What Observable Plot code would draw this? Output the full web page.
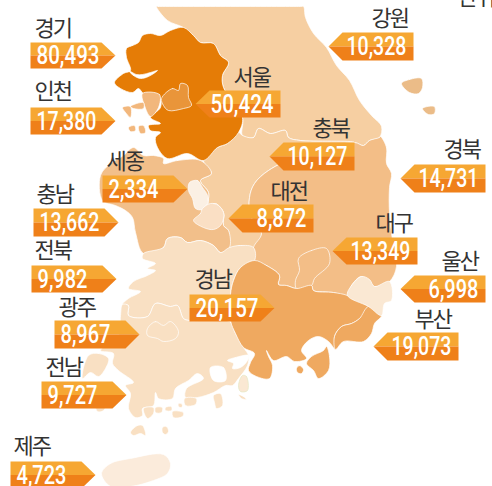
<!DOCTYPE html>
<html><head><meta charset="utf-8">
<style>
html,body{margin:0;padding:0;background:#fff}
svg{display:block}
.names text{letter-spacing:-2px}
</style>
<script src="https://cdn.jsdelivr.net/npm/d3@7"></script>
<script src="https://cdn.jsdelivr.net/npm/@observablehq/plot@0.6"></script>
</head><body><div id="chart"></div>
<script>
// Values
const regionNames = ["경기","인천","세종","충남","전북","광주","전남","제주","서울","강원","충북","경북","대전","대구","울산","부산","경남"];
const regionValues = [80493,17380,2334,13662,9982,8967,9727,4723,50424,10328,10127,14731,8872,13349,6998,19073,20157];
// Tag layout: [left, right, top, bottom, direction]
const tagBoxes = [[30,101,42,68,1],[30,101,107,134,1],[102,173,175,202,1],[33,104,208,236,1],[31,102,265,292,1],[54,125,320,348,1],[41,112,381,408,1],[10,81,461,488,1],[209,280,90,117,-1],[342,413,32,60,-1],[283,354,142,170,-1],[414,485,164,192,-1],[242,313,204,232,-1],[346,417,237,264,-1],[414,485,275,302,-1],[387,458,332,360,-1],[189,260,294,321,1]];
const namePos = [[34,35],[34,98],[106,168],[36,201],[34,257],[58,314],[45,374],[13,453],[233,84],[371,25],[312,135],[443,156],[270,198],[375,230],[441,268],[414,326],[194,286]];
// Map outlines, in picture units
const gangwon=[[156,6],[158,6],[230,6],[300,6],[303,6],[305,17],[313,33],[326,47],[336,65],[349,80],[359,100],[371,115],[381,126],[379,137],[369,140],[363,145],[354,142],[300,140],[288,137],[285,130],[270,133],[258,128],[253,137],[242,135],[242,117],[223,87],[222,75],[228,62],[220,55],[213,43],[200,42],[193,35],[183,27],[167,20]];
const chungbuk=[[242,135],[253,137],[258,128],[270,133],[285,130],[288,137],[300,140],[354,142],[300,155],[268,170],[254,183],[249,197],[250,215],[261,233],[253,247],[240,245],[229,247],[228,230],[223,225],[223,212],[215,203],[208,205],[208,192],[200,180],[211,173],[203,160],[217,147],[227,143],[238,132]];
const gyeonggi=[[126,48],[132,45],[138,42],[142,35],[150,33],[160,35],[170,30],[183,27],[193,35],[200,42],[213,43],[220,55],[228,62],[222,75],[223,87],[242,117],[238,132],[227,143],[217,147],[203,160],[187,153],[167,158],[157,147],[155,137],[160,132],[150,130],[148,125],[160,123],[150,117],[160,107],[159,97],[143,93],[138,88],[132,92],[120,88],[114,82],[123,73],[130,70],[126,57]];
const crescent=[[128,70],[133,75],[140,78],[148,76],[157,70],[150,72],[142,74],[136,74]];
const seoul=[[161,98],[172,88],[178,90],[180,83],[187,85],[188,97],[191,105],[183,108],[168,110],[163,105]];
const incheon=[[142,93],[159,94],[158,107],[150,116],[144,105]];
const incheonIslands=[[[130,106],[143,102],[143,108],[133,108]],[[122,107],[130,106],[130,117],[125,112]],[[128,127],[134,125],[135,130],[130,131]],[[138,126],[143,125],[145,132],[140,133]]];
const chungnam=[[163,163],[177,160],[200,160],[211,173],[200,180],[208,192],[208,205],[215,203],[223,212],[223,225],[228,230],[229,247],[220,252],[213,245],[200,240],[187,242],[180,237],[167,238],[163,247],[143,253],[135,232],[132,217],[125,210],[115,205],[102,200],[100,175],[110,163],[123,155],[133,147],[143,155],[153,155],[163,158]];
const sejong=[[189,182],[197,180],[202,187],[207,195],[207,203],[202,209],[195,208],[192,198],[188,190]];
const daejeon=[[193,220],[200,213],[202,208],[210,203],[218,205],[223,212],[223,218],[220,225],[213,229],[203,227]];
const jeonbuk=[[143,253],[163,247],[167,238],[180,237],[187,242],[200,240],[213,245],[220,252],[229,247],[240,245],[253,247],[254,260],[240,267],[233,280],[230,294],[229,321],[189,320],[183,318],[177,305],[170,306],[155,303],[147,316],[128,315],[128,305],[122,304],[128,298],[140,291],[128,288],[133,281],[147,275],[155,270],[147,268],[155,263],[142,258]];
const jeonnam=[[122,304],[128,305],[128,315],[147,316],[155,303],[170,306],[177,305],[183,318],[189,320],[229,321],[235,333],[243,347],[248,355],[247,365],[238,378],[232,385],[225,385],[213,392],[197,397],[185,397],[186,388],[203,378],[197,373],[188,380],[175,388],[172,398],[158,398],[155,392],[153,405],[142,408],[142,415],[135,417],[128,408],[130,393],[125,385],[133,382],[118,370],[112,363],[113,353],[100,350],[118,335],[120,315]];
const gwangju=[[147,328],[155,321],[163,325],[170,321],[178,331],[175,338],[163,341],[157,338],[147,335]];
const jeonnamIslands=[[[130,432],[137,425],[142,425],[145,435],[140,433],[133,435]],[[162,427],[166,426],[168,431],[165,434],[162,432]],[[143,408],[153,407],[153,413],[147,418]],[[155,407],[162,407],[161,412],[155,412]],[[165,407],[171,406],[171,410],[165,410]],[[172,411],[183,412],[182,416],[173,417]],[[178,403],[182,404],[181,407],[178,406]],[[184,398],[196,398],[195,404],[185,405]],[[213,395],[220,393],[222,405],[216,408],[214,402]],[[88,355],[98,353],[108,358],[105,368],[98,376],[90,372],[82,378]],[[95,403],[106,402],[103,410],[97,411]]];
const namhae=[[242,375],[246,376],[247,390],[240,391],[238,385]];
const namhaeSmall=[[238,394],[243,396],[246,399],[241,398]];
const gyeongbuk=[[380,136],[386,147],[386,163],[391,173],[389,187],[389,213],[392,240],[396,266],[389,281],[374,286],[361,276],[351,285],[347,295],[333,292],[313,290],[311,285],[296,288],[286,285],[278,284],[279,275],[266,265],[254,260],[253,247],[261,233],[250,215],[249,197],[254,183],[268,170],[300,155],[354,142],[363,145],[369,140],[379,137]];
const daegu=[[298,258],[311,250],[326,248],[329,263],[314,278],[311,285],[296,288],[295,280],[299,270]];
const gyeongnam=[[254,260],[266,265],[279,275],[278,284],[286,285],[296,288],[311,285],[313,290],[333,292],[347,295],[368,306],[359,318],[351,323],[341,326],[334,336],[335,349],[328,341],[318,336],[308,340],[301,350],[306,358],[294,361],[286,356],[273,360],[266,350],[268,356],[272,365],[269,378],[256,376],[248,370],[250,362],[254,353],[243,347],[235,333],[230,320],[230,294],[233,280],[240,267]];
const busan=[[368,306],[381,315],[374,323],[371,333],[363,341],[343,341],[335,349],[334,336],[341,326],[351,323],[359,318]];
const ulsan=[[347,295],[351,285],[361,276],[369,279],[374,286],[389,281],[391,300],[384,303],[381,315],[368,306]];
const geoje=[[[326,346],[329,356],[328,370],[318,378],[313,370],[306,363],[311,356],[323,350]],[[296,368],[299,365],[303,369],[301,373],[297,372]]];
const ulleung=[[401,83],[409,79],[421,78],[422,87],[418,93],[409,92]];
const dokdo=[[422,108],[434,106],[434,113],[428,114]];
const jeju=[[101,473],[110,463],[130,458],[163,454],[170,463],[167,473],[153,480],[130,486],[110,486]];
const whiteBays=[[[227,360],[235,357],[248,355],[247,360],[240,367],[232,368],[233,363]],[[210,367],[223,367],[225,380],[213,380]],crescent];

const regionFill={gangwon:"#f6cfa2",chungbuk:"#f6cfa2",gyeonggi:"#e57c06",seoul:"#e9953a",incheon:"#f2b77c",chungnam:"#f2bf8a",sejong:"#fbf0e4",daejeon:"#fadfc4",jeon:"#f9e0c3",gyeongbuk:"#f3be87",gyeongnam:"#efa960",ulsan:"#fae8d3",jeju:"#fbebdb",ulleung:"#ebbc88"};
const shapes=[];
let sid=0;
function add(pts,fill,stroke="#fff"){const id=sid++;pts.forEach(p=>shapes.push({id,x:p[0],y:p[1],fill,stroke}));}
add(gangwon,regionFill.gangwon);add(chungbuk,regionFill.chungbuk);add(chungnam,regionFill.chungnam);
add(gyeongbuk,regionFill.gyeongbuk);add(daegu,regionFill.gyeongbuk);
add(jeonbuk,regionFill.jeon);add(jeonnam,regionFill.jeon);add(gwangju,regionFill.jeon);
jeonnamIslands.forEach(s=>add(s,regionFill.jeon));
add(gyeongnam,regionFill.gyeongnam);add(busan,regionFill.gyeongnam);geoje.forEach(s=>add(s,regionFill.gyeongnam));
add(ulsan,regionFill.ulsan);
add(gyeonggi,regionFill.gyeonggi);add(seoul,regionFill.seoul);add(incheon,regionFill.incheon);
incheonIslands.forEach(s=>add(s,regionFill.incheon));
add(sejong,regionFill.sejong);add(daejeon,regionFill.daejeon);
whiteBays.forEach(s=>add(s,"#fff"));
add(namhae,regionFill.ulsan,"#e4e8c4");add(namhaeSmall,regionFill.jeon);
add(ulleung,regionFill.ulleung);add(dokdo,regionFill.ulleung);add(jeju,regionFill.jeju);

const tagPts=[];
tagBoxes.forEach((b,i)=>{
  const [l,r,t,bt,dir]=b, m=(t+bt)/2, tip=dir>0?r+14:l-14;
  const upper=dir>0?[[l,t],[r,t],[tip,m],[l,m]]:[[tip,m],[l,t],[r,t],[r,m]];
  const lower=dir>0?[[l,m],[tip,m],[r,bt],[l,bt]]:[[tip,m],[r,m],[r,bt],[l,bt]];
  upper.forEach(p=>tagPts.push({id:"u"+i,x:p[0],y:p[1],fill:"#f6a733"}));
  lower.forEach(p=>tagPts.push({id:"l"+i,x:p[0],y:p[1],fill:"#ef8019"}));
});
const fmt=d3.format(",");
const valueRows=regionValues.map((v,i)=>{const b=tagBoxes[i];return {t:fmt(v),x:b[4]>0?b[0]+6:b[1]-7,y:(b[2]+b[3])/2+.5,dir:b[4]};});
const nameRows=regionNames.map((n,i)=>({t:n,x:namePos[i][0],y:namePos[i][1]}));
nameRows.push({t:"단위",x:457,y:4});
const valueFont="Roboto,sans-serif";
const plot=Plot.plot({
  width:492,height:486,margin:0,
  x:{domain:[0,492],range:[0,492],axis:null},
  y:{domain:[0,486],range:[0,486],axis:null},
  color:{type:"identity"},
  marks:[
    Plot.line(shapes,{x:"x",y:"y",z:"id",fill:"fill",stroke:"stroke",strokeWidth:0.7,curve:"catmull-rom-closed"}),
    Plot.line(tagPts,{x:"x",y:"y",z:"id",fill:"fill",stroke:null,curve:"linear-closed"}),
    Plot.text(valueRows.filter(d=>d.dir>0),{x:"x",y:"y",text:"t",textAnchor:"start",fill:"#fff",fontSize:25,fontWeight:500,fontFamily:valueFont,className:"vals"}),
    Plot.text(valueRows.filter(d=>d.dir<0),{x:"x",y:"y",text:"t",textAnchor:"end",fill:"#fff",fontSize:25,fontWeight:500,fontFamily:valueFont,className:"vals"}),
    Plot.text(nameRows,{x:"x",y:"y",text:"t",textAnchor:"start",lineAnchor:"bottom",fill:"#333",fontSize:22,fontFamily:"'Noto Sans CJK KR',sans-serif",className:"names"})
  ]
});
document.getElementById("chart").appendChild(plot);
// condense the value text to the reference's narrow numerals
plot.querySelectorAll(".vals text").forEach(t=>{
  const s=t.textContent;
  t.setAttribute("textLength",s.length>=6?(s[0]==="1"?60:63):50);
  t.setAttribute("lengthAdjust","spacingAndGlyphs");
});
</script></body></html>
